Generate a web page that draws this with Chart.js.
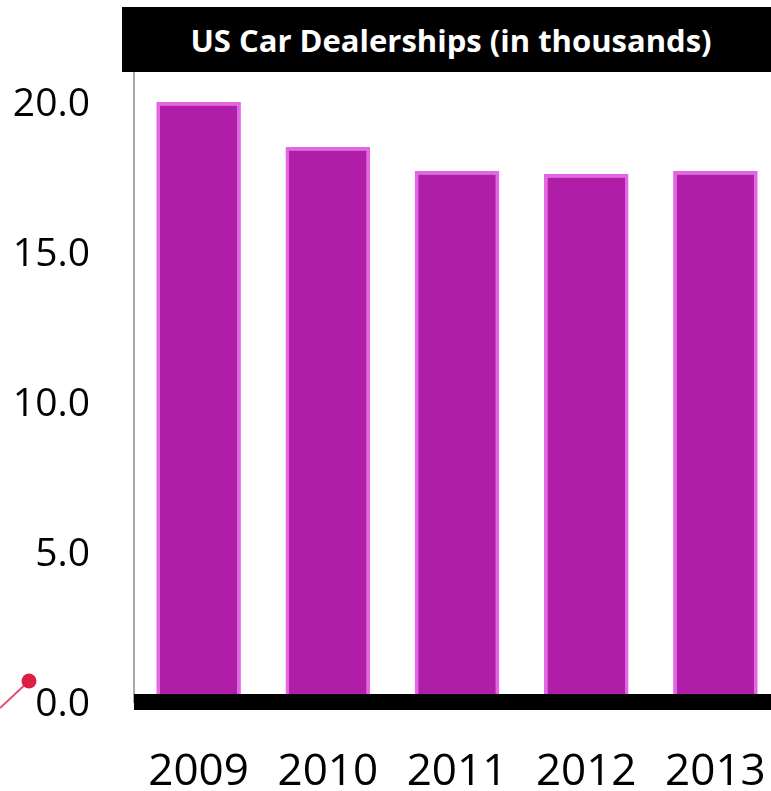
<!DOCTYPE html>
<html>
<head>
<meta charset="utf-8">
<script src="https://cdn.jsdelivr.net/npm/chart.js@4.4.1/dist/chart.umd.min.js"></script>
<style>
  html, body { margin: 0; padding: 0; background: #fff; overflow: hidden; }
  #wrap { position: relative; width: 780px; height: 791px; }
  #title {
    position: absolute; left: 122px; top: 7px; width: 658px; height: 65px;
    background: #000; color: #fff; font-family: "Open Sans", sans-serif; font-weight: 700;
    font-size: 31px; display: flex; align-items: center; justify-content: center; z-index: 2;
    white-space: nowrap;
  }
  #deco { position: absolute; left: 0; top: 0; z-index: 3; }
  canvas { position: absolute; left: 0; top: 0; }
</style>
</head>
<body>
<div id="wrap">
  <div id="title">US Car Dealerships (in thousands)</div>
  <svg id="deco" width="60" height="720">
    <line x1="29" y1="681" x2="0" y2="708" stroke="#e0506a" stroke-width="2"/>
    <circle cx="29" cy="681" r="7.5" fill="#dc1f45"/>
  </svg>
  <canvas id="c" width="780" height="791"></canvas>
</div>
<script>
const categories = ['2009', '2010', '2011', '2012', '2013'];
const dealerships = [20.0, 18.5, 17.7, 17.6, 17.7];
const yTicks = [0, 5, 10, 15, 20];

const baseline = {
  id: 'baseline',
  afterDatasetsDraw(chart) {
    const { ctx, chartArea, scales } = chart;
    const y0 = scales.y.getPixelForValue(0);
    ctx.save();
    ctx.fillStyle = '#000';
    ctx.fillRect(chartArea.left, y0 - 8, chartArea.right - chartArea.left, 16);
    ctx.restore();
  }
};

new Chart(document.getElementById('c'), {
  type: 'bar',
  data: {
    labels: categories,
    datasets: [{
      data: dealerships,
      backgroundColor: '#b01ea8',
      borderColor: '#e566e5',
      borderWidth: 3.5,
      borderSkipped: false,
      categoryPercentage: 1,
      barPercentage: 0.655
    }]
  },
  plugins: [baseline],
  options: {
    responsive: false,
    animation: false,
    layout: { padding: { top: 72, left: 0, right: 0, bottom: 0 } },
    plugins: { legend: { display: false }, tooltip: { enabled: false }, title: { display: false } },
    scales: {
      x: {
        grid: { display: false, drawTicks: false },
        border: { display: false },
        ticks: { color: '#000', padding: 48, font: { family: 'Open Sans', size: 44, lineHeight: 1 }, maxRotation: 0 },
        afterFit: s => { s.height = 89; s.paddingLeft = 0; s.paddingRight = 0; }
      },
      y: {
        min: 0, max: 21,
        grid: { display: false, drawTicks: false },
        border: { display: true, color: '#a8a8a8', width: 2 },
        afterBuildTicks: s => { s.ticks = yTicks.map(v => ({ value: v })); },
        ticks: { color: '#000', padding: 44, labelOffset: 3, font: { family: 'Open Sans', size: 39 }, callback: v => Number(v).toFixed(1) },
        afterFit: s => { s.width = 134; s.paddingTop = 0; s.paddingBottom = 0; }
      }
    }
  }
});
</script>
</body>
</html>
